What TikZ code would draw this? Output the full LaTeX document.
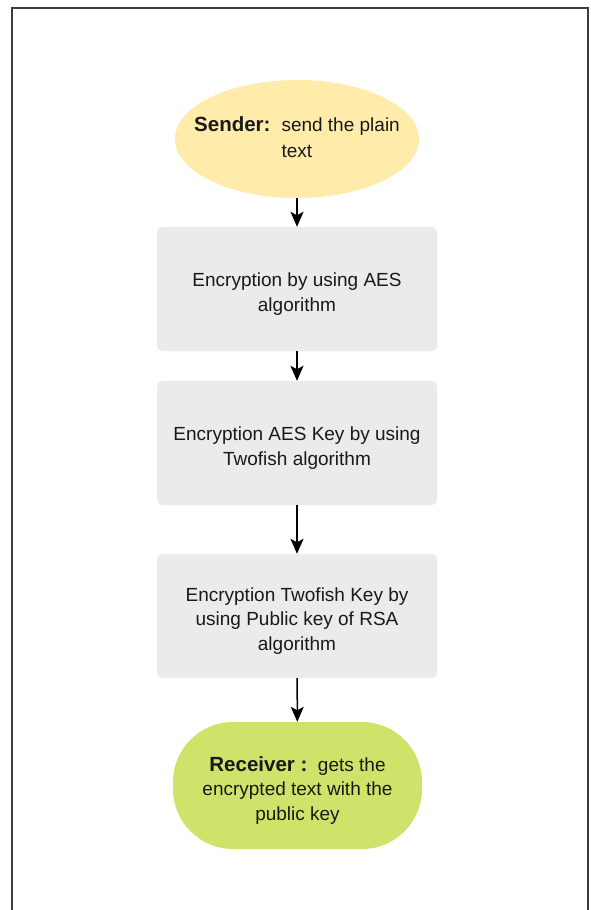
\documentclass[tikz,border=0pt]{standalone}
\usepackage{fontspec}
\setmainfont{Liberation Sans}
\usetikzlibrary{arrows.meta,shapes.geometric}
\definecolor{senderfill}{RGB}{255,235,170}
\definecolor{receiverfill}{RGB}{205,227,106}
\definecolor{boxfill}{RGB}{235,235,235}
\definecolor{framecol}{RGB}{60,60,60}
\newcommand{\biglabel}[1]{{\fontsize{20.5}{24.5}\selectfont\textbf{#1}}}
\begin{document}
\begin{tikzpicture}[x=1pt,y=-1pt,
  every node/.style={font=\fontsize{19}{24.5}\selectfont, text=black!90, align=center, inner sep=0pt},
  stepbox/.style={rectangle, rounded corners=5pt, fill=boxfill, minimum width=280pt, minimum height=124pt},
  senderbox/.style={ellipse, fill=senderfill, minimum width=244pt, minimum height=118pt},
  receiverbox/.style={rectangle, rounded corners=60pt, fill=receiverfill, minimum width=249pt, minimum height=127pt},
  txt/.style={yshift=-5pt},
  flow/.style={-{Stealth[length=15pt,width=13pt,inset=3.5pt]}, line width=1.5pt, black}
]
\useasboundingbox (0,0) rectangle (590,910);
\fill[white] (0,0) rectangle (590,910);
\draw[framecol, line width=1.4pt] (12,910) -- (12,8) -- (588,8) -- (588,910);

\node[senderbox] (sender) at (297,139) {};
\node[stepbox] (aes) at (297,289) {};
\node[stepbox] (two) at (297,443) {};
\node[stepbox] (rsa) at (297,616) {};
\node[receiverbox] (recv) at (297.5,785.5) {};

\node (sendertxt) at ([yshift=-1pt]sender.center) {\begin{tabular}{@{}l@{\hspace{11pt}}l@{}}\biglabel{Sender:} & send the plain\\[1.5pt] & text\end{tabular}};
\node[txt] (aestxt) at (aes.center) {Encryption by using AES\\algorithm};
\node[txt] (twotxt) at (two.center) {Encryption AES Key by using\\Twofish algorithm};
\node[txt] (rsatxt) at (rsa.center) {Encryption Twofish Key by\\using Public key of RSA\\algorithm};
\node[txt] (recvtxt) at (recv.center) {\biglabel{Receiver :}\ \ gets the\\encrypted text with the\\public key};

\draw[flow] (sender) -- (aes);
\draw[flow] (aes) -- (two);
\draw[flow] (two) -- (rsa);
\draw[flow] (rsa) -- (recv);
\end{tikzpicture}
\end{document}
